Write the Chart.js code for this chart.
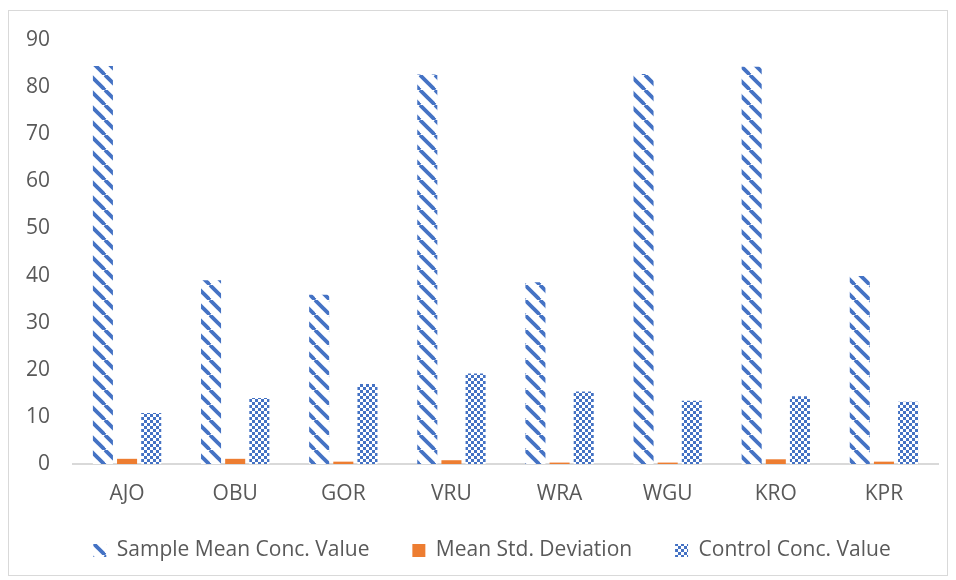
<!DOCTYPE html>
<html>
<head>
<meta charset="utf-8">
<script src="https://cdn.jsdelivr.net/npm/chart.js@4.4.1/dist/chart.umd.min.js"></script>
<style>
  html, body { margin: 0; padding: 0; background: #ffffff; }
  #frame { position: absolute; left: 8px; top: 10px; width: 940px; height: 566px; border: 1px solid #d9d9d9; box-sizing: border-box; }
  #wrap { position: absolute; left: 0; top: 0; width: 956px; height: 580px; }
</style>
</head>
<body>
<div id="frame"></div>
<div id="wrap"><canvas id="chart" width="956" height="580"></canvas></div>
<script>
const categories = ["AJO", "OBU", "GOR", "VRU", "WRA", "WGU", "KRO", "KPR"];
const sampleMean = [84.5, 39.0, 35.9, 82.7, 38.6, 82.8, 84.3, 39.9];
const meanStdDev = [1.1, 1.1, 0.5, 0.8, 0.3, 0.3, 1.0, 0.5];
const controlConc = [10.8, 14.0, 17.0, 19.2, 15.4, 13.4, 14.4, 13.2];
const yTicks = [0, 10, 20, 30, 40, 50, 60, 70, 80, 90];

const BLUE = "#4472c4";
const ORANGE = "#ed7d31";
const TEXT = "#595959";
const FONT = "'Open Sans', 'Noto Sans', sans-serif";
const FONT_SIZE = 21;

// wide downward-diagonal hatch
function stripePattern() {
  const s = 15;
  const c = document.createElement("canvas");
  c.width = s; c.height = s;
  const g = c.getContext("2d");
  g.fillStyle = "#ffffff";
  g.fillRect(0, 0, s, s);
  g.strokeStyle = BLUE;
  g.lineWidth = 3.8;
  for (const off of [-s, 0, s]) {
    g.beginPath();
    g.moveTo(off, 0);
    g.lineTo(off + s, s);
    g.stroke();
  }
  return g.createPattern(c, "repeat");
}

// small checkerboard
function checkerPattern() {
  const cell = 3;
  const c = document.createElement("canvas");
  c.width = cell * 2; c.height = cell * 2;
  const g = c.getContext("2d");
  g.fillStyle = "#ffffff";
  g.fillRect(0, 0, cell * 2, cell * 2);
  g.fillStyle = BLUE;
  g.fillRect(0, 0, cell, cell);
  g.fillRect(cell, cell, cell, cell);
  return g.createPattern(c, "repeat");
}

// nudge the legend row to the right of the centred slot
const legendShift = {
  id: "legendShift",
  afterLayout(chart) {
    if (chart.legend) {
      chart.legend.left += 18;
      chart.legend.right += 18;
    }
  }
};

const ctx = document.getElementById("chart").getContext("2d");
new Chart(ctx, {
  type: "bar",
  data: {
    labels: categories,
    datasets: [
      { label: "Sample Mean Conc. Value", data: sampleMean, backgroundColor: stripePattern(), borderWidth: 0 },
      { label: "Mean Std. Deviation", data: meanStdDev, backgroundColor: ORANGE, borderWidth: 0 },
      { label: "Control Conc. Value", data: controlConc, backgroundColor: checkerPattern(), borderWidth: 0 }
    ]
  },
  plugins: [legendShift],
  options: {
    responsive: false,
    animation: false,
    devicePixelRatio: 1,
    datasets: { bar: { categoryPercentage: 0.67, barPercentage: 0.83 } },
    layout: { padding: { left: 10, right: 18, top: 40, bottom: 9 } },
    plugins: {
      legend: {
        position: "bottom",
        labels: {
          color: TEXT,
          font: { family: FONT, size: FONT_SIZE },
          boxWidth: 13,
          boxHeight: 13,
          padding: 32,
          // widen the gap after each entry except the last
          generateLabels: (chart) => {
            const items = Chart.defaults.plugins.legend.labels.generateLabels(chart);
            items.forEach((it, i) => { if (i < items.length - 1) it.text += "  "; });
            return items;
          }
        }
      },
      tooltip: { enabled: false }
    },
    scales: {
      x: {
        afterFit: (scale) => { scale.height = 44; },
        grid: { display: false },
        border: { display: true, color: "#d9d9d9", width: 2 },
        ticks: { color: TEXT, font: { family: FONT, size: FONT_SIZE }, padding: 9 }
      },
      y: {
        min: 0,
        max: 90,
        afterBuildTicks: (scale) => { scale.ticks = yTicks.map(v => ({ value: v })); },
        afterFit: (scale) => { scale.width = 63; },
        grid: { display: false },
        border: { display: false },
        ticks: { color: TEXT, font: { family: FONT, size: FONT_SIZE }, padding: 15 }
      }
    }
  }
});
</script>
</body>
</html>
